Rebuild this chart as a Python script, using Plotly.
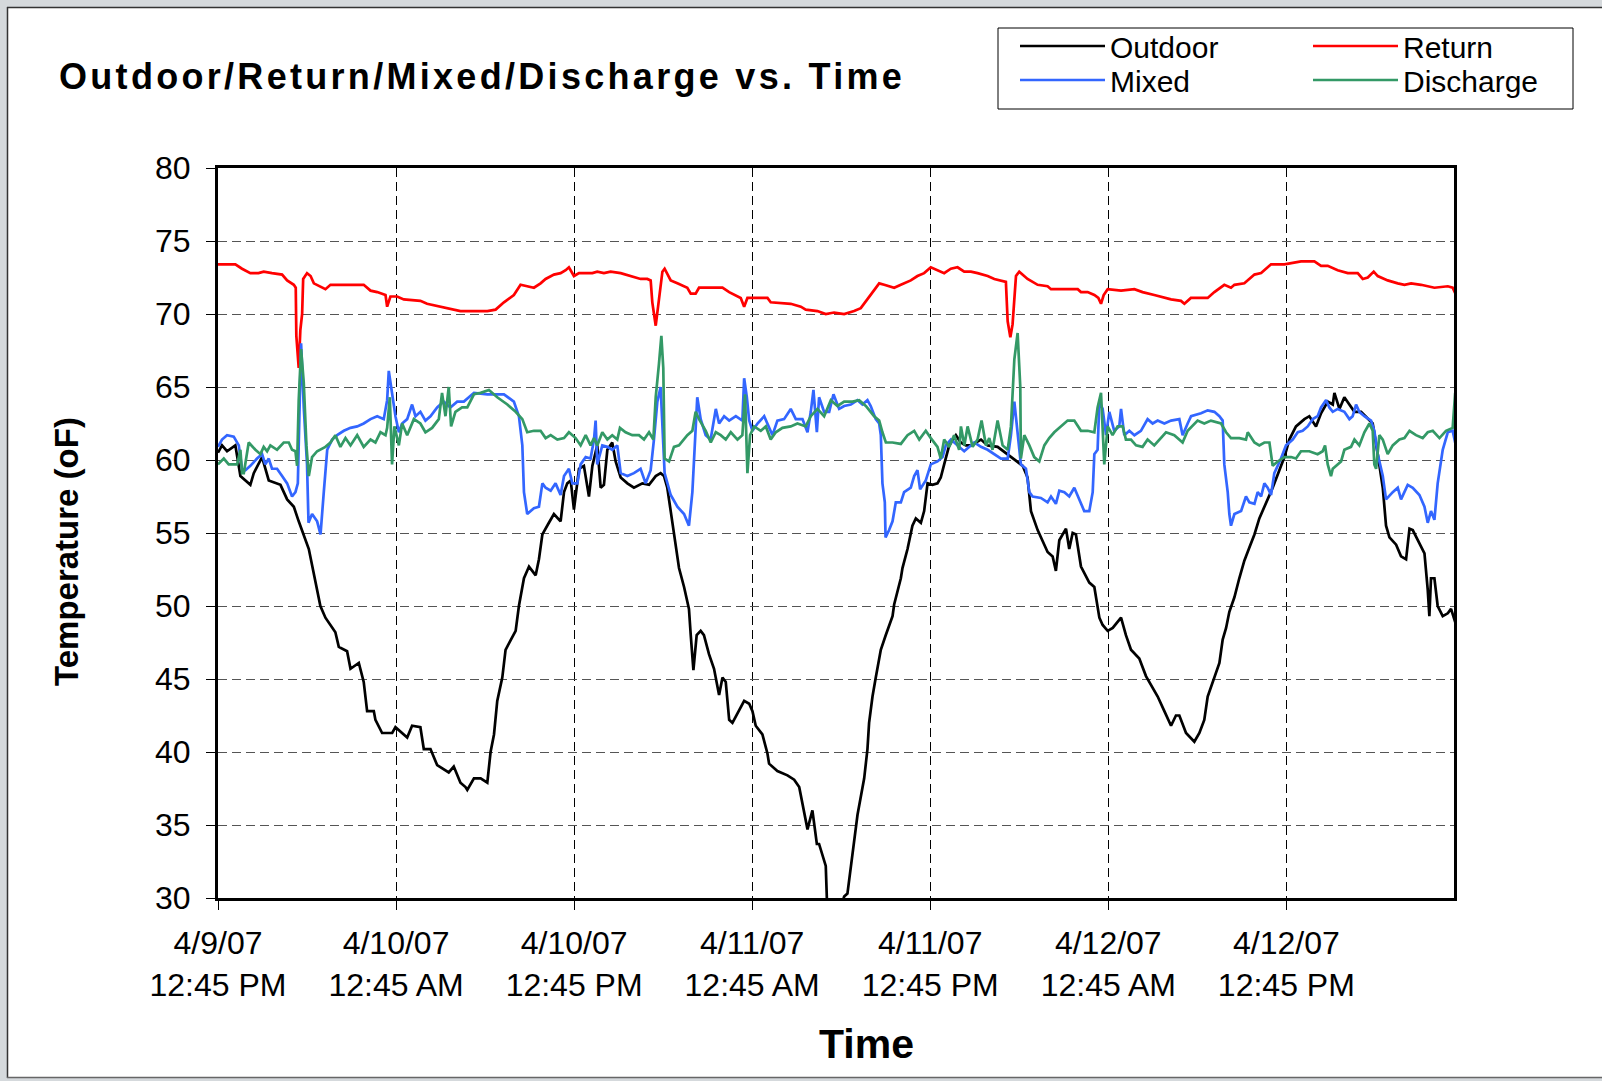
import numpy as np
import pandas as pd
import plotly.graph_objects as go

# ---------------- data (hours after 4/9/07 12:45 PM, temperature oF) ----------------
START = "2007-04-09 12:45"

outdoor_hours = [0.0, 0.27, 0.61, 1.17, 1.51, 2.18, 2.41, 2.97, 3.42, 4.21, 4.66, 5.11, 5.44, 6.12, 6.90, 7.24,
                 7.91, 8.14, 8.70, 8.93, 9.49, 9.82, 10.05, 10.50, 10.61, 11.06, 11.74, 11.96, 12.75, 13.08, 13.64,
                 13.87, 14.32, 14.77, 15.55, 15.89, 16.34, 16.68, 16.8, 17.25, 17.7, 18.15, 18.37, 18.6, 18.82,
                 19.16, 19.38, 19.83, 20.06, 20.28, 20.62, 20.96, 21.41, 21.63, 21.86, 22.3, 22.64, 23.09, 23.32,
                 23.54, 23.77, 23.99, 24.33, 24.66, 25.0, 25.23, 25.56, 25.79, 26.01, 26.24, 26.57, 26.8, 27.14,
                 27.59, 28.03, 28.6, 29.05, 29.5, 29.83, 30.06, 30.28, 30.51, 30.73, 31.07, 31.41, 31.74, 31.86,
                 32.04, 32.26, 32.53, 32.75, 33.09, 33.43, 33.55, 33.77, 34.0, 34.22, 34.45, 34.67, 35.46, 35.8,
                 36.02, 36.24, 36.69, 37.03, 37.14, 37.7, 38.38, 38.83, 39.17, 39.5, 39.73, 40.06, 40.36, 40.51,
                 40.74, 40.96, 41.1, 41.6, 42.05, 42.2, 42.42, 42.87, 43.1, 43.55, 43.77, 43.88, 44.11, 44.33,
                 44.67, 45.0, 45.46, 45.57, 46.02, 46.13, 46.47, 46.8, 47.03, 47.37, 47.59, 47.82, 48.15, 48.49,
                 48.71, 48.94, 49.28, 49.73, 50.06, 50.4, 50.74, 51.42, 51.87, 52.54, 53.44, 54.23, 54.56, 54.79,
                 55.24, 55.91, 56.25, 56.47, 56.7, 57.15, 57.37, 57.6, 57.82, 58.16, 58.72, 59.06, 59.4, 59.62,
                 59.96, 60.3, 60.86, 61.19, 61.53, 62.09, 62.54, 62.77, 63.33, 63.78, 64.23, 64.56, 64.79, 65.24,
                 65.8, 66.14, 66.47, 66.7, 67.15, 67.49, 67.71, 67.94, 68.16, 68.5, 68.83, 69.17, 69.51, 69.85,
                 70.18, 70.63, 71.08, 71.53, 71.87, 72.2, 72.65, 73.22, 73.55, 74.0, 74.34, 74.79, 75.13, 75.24,
                 75.58, 75.91, 76.25, 76.59, 77.04, 77.49, 77.82, 78.16, 78.5, 78.72, 78.95, 79.4, 79.73, 80.07,
                 80.3, 80.52, 80.86, 81.31, 81.53, 81.64, 81.75, 81.98, 82.2, 82.54, 82.88, 83.1, 83.44]
outdoor_temp = [60.5, 61.0, 60.6, 61.0, 58.9, 58.3, 59.1, 60.2, 58.6, 58.3, 57.3, 56.8, 55.8, 53.9, 50.0, 49.2,
                48.2, 47.2, 46.9, 45.7, 46.1, 44.8, 42.8, 42.8, 42.2, 41.3, 41.3, 41.7, 41.0, 41.8, 41.7,
                40.2, 40.2, 39.1, 38.6, 39.0, 37.9, 37.6, 37.4, 38.2, 38.2, 37.9, 40.0, 41.2, 43.5,
                45.1, 47.0, 47.9, 48.3, 50.0, 51.9, 52.7, 52.1, 53.2, 54.9, 55.7, 56.3, 55.8, 57.8,
                58.4, 58.6, 56.6, 59.4, 59.6, 57.5, 59.6, 61.0, 58.1, 58.3, 60.7, 61.2, 59.9, 58.8,
                58.4, 58.1, 58.4, 58.3, 58.9, 59.1, 58.9, 58.1, 56.5, 54.9, 52.6, 51.3, 49.8, 48.0,
                45.6, 48.0, 48.3, 48.0, 46.7, 45.7, 45.1, 43.9, 45.1, 44.8, 42.2, 42.0, 43.5, 43.3,
                42.8, 41.8, 41.2, 39.9, 39.2, 38.7, 38.4, 38.1, 37.6, 36.0, 34.7, 36.0, 33.7, 33.7,
                32.9, 32.2, 28.0, 27.5, 29.6, 30.1, 30.3, 33.7, 35.7, 38.2, 40.2, 42.0, 43.8, 45.1,
                47.0, 48.0, 49.3, 50.1, 51.9, 52.6, 53.9, 55.5, 56.0, 55.7, 56.5, 58.4, 58.3, 58.4,
                58.8, 59.7, 61.0, 61.7, 61.2, 61.0, 61.0, 61.4, 61.0, 60.9, 60.2, 59.6, 58.8, 56.5,
                55.2, 53.7, 53.4, 52.4, 54.5, 55.3, 53.9, 55.0, 54.9, 52.7, 51.6, 51.3, 49.2, 48.7,
                48.3, 48.5, 49.2, 48.0, 47.0, 46.4, 45.2, 44.8, 43.8, 42.8, 41.8, 42.5, 42.5, 41.3,
                40.7, 41.3, 42.2, 43.8, 45.1, 46.1, 47.7, 48.5, 49.6, 50.6, 51.9, 53.1, 54.0, 54.9,
                56.0, 57.0, 58.1, 59.3, 60.2, 61.4, 62.3, 62.8, 63.0, 62.3, 63.2, 64.0, 63.8, 64.6,
                63.5, 64.3, 63.8, 63.3, 63.3, 62.8, 62.5, 60.4, 58.1, 55.5, 54.7, 54.2, 53.4, 53.2,
                55.3, 55.2, 54.5, 53.6, 51.1, 49.3, 51.9, 51.9, 50.0, 49.3, 49.5, 49.8, 48.7]

return_hours = [0.0, 1.17, 1.62, 2.18, 2.73, 3.08, 3.64, 4.32, 4.66, 5.11, 5.24, 5.28, 5.44, 5.55, 5.67, 5.74,
                6.0, 6.24, 6.46, 6.91, 7.24, 7.58, 8.48, 9.82, 10.28, 10.73, 11.29, 11.4, 11.62, 12.07, 12.52,
                13.64, 14.09, 14.99, 15.66, 16.34, 17.25, 18.15, 18.71, 19.27, 19.94, 20.39, 20.84, 21.29, 21.74,
                22.08, 22.64, 23.09, 23.43, 23.65, 23.99, 24.33, 25.23, 25.56, 26.01, 26.46, 27.14, 27.81, 28.48,
                28.93, 29.16, 29.27, 29.5, 29.72, 29.95, 30.1, 30.51, 30.96, 31.63, 31.86, 32.19, 32.42, 33.43,
                34.0, 34.45, 35.23, 35.46, 35.68, 37.03, 37.25, 38.6, 39.28, 39.61, 40.4, 40.96, 41.52, 42.2,
                42.87, 43.32, 43.77, 44.22, 44.56, 44.9, 45.57, 46.02, 46.69, 47.14, 47.59, 48.04, 48.49, 48.94,
                49.39, 49.84, 50.29, 50.74, 51.19, 51.87, 52.32, 53.1, 53.22, 53.4, 53.55, 53.78, 54.0, 54.56,
                55.24, 55.91, 56.14, 57.94, 58.16, 58.61, 59.06, 59.33, 59.51, 59.69, 59.96, 60.86, 61.76, 62.31,
                63.1, 63.78, 64.23, 64.9, 65.13, 65.57, 66.7, 67.15, 67.82, 68.27, 68.5, 69.17, 69.85, 70.3,
                70.97, 71.87, 72.54, 72.99, 73.44, 73.89, 74.34, 74.79, 75.46, 76.14, 76.81, 77.15, 77.49, 77.89,
                78.16, 78.83, 79.51, 79.96, 80.41, 81.08, 81.98, 82.88, 83.21, 83.44]
return_temp = [73.4, 73.4, 73.1, 72.8, 72.8, 72.9, 72.8, 72.7, 72.3, 72.0, 71.8, 68.5, 66.3, 68.9, 70.0, 72.4,
               72.8, 72.6, 72.1, 71.9, 71.7, 72.0, 72.0, 72.0, 71.6, 71.5, 71.3, 70.5, 71.2, 71.2, 71.0,
               70.9, 70.7, 70.5, 70.3, 70.2, 70.2, 70.2, 70.3, 70.8, 71.3, 72.0, 71.9, 71.8, 72.1,
               72.4, 72.7, 72.8, 73.0, 73.2, 72.6, 72.8, 72.8, 72.9, 72.8, 72.9, 72.8, 72.6, 72.4,
               72.4, 72.3, 70.8, 69.2, 71.0, 72.9, 73.1, 72.3, 72.1, 71.8, 71.4, 71.4, 71.8, 71.8,
               71.8, 71.5, 71.1, 70.5, 71.1, 71.1, 70.8, 70.7, 70.5, 70.3, 70.2, 70.0, 70.1, 70.0,
               70.2, 70.4, 71.0, 71.6, 72.1, 72.0, 71.8, 72.0, 72.3, 72.6, 72.8, 73.2, 73.0, 72.8,
               73.1, 73.2, 72.9, 72.9, 72.8, 72.6, 72.4, 72.2, 69.5, 68.4, 69.3, 72.6, 72.9, 72.4,
               72.0, 71.9, 71.7, 71.7, 71.5, 71.5, 71.3, 71.1, 70.7, 71.3, 71.7, 71.6, 71.7, 71.5,
               71.3, 71.1, 71.0, 70.9, 70.7, 71.1, 71.1, 71.5, 72.0, 71.8, 72.0, 72.1, 72.7, 72.8,
               73.4, 73.4, 73.5, 73.6, 73.6, 73.6, 73.3, 73.3, 73.0, 72.8, 72.8, 72.4, 72.5, 72.9,
               72.6, 72.3, 72.1, 72.0, 72.1, 72.0, 71.8, 71.9, 71.8, 71.3]

mixed_hours = [0.0, 0.27, 0.61, 1.06, 1.4, 1.62, 1.85, 2.18, 2.63, 2.97, 3.19, 3.42, 3.64, 3.98, 4.32, 4.66,
               4.99, 5.22, 5.38, 5.51, 5.6, 5.78, 6.0, 6.1, 6.34, 6.68, 6.91, 7.13, 7.36, 7.69, 8.03, 8.48,
               8.93, 9.38, 9.82, 10.28, 10.73, 11.17, 11.4, 11.51, 11.74, 11.96, 12.19, 12.41, 12.75, 13.08,
               13.31, 13.64, 13.98, 14.32, 14.77, 15.21, 15.66, 16.12, 16.57, 17.25, 18.15, 19.27, 19.94, 20.28,
               20.51, 20.62, 20.84, 21.29, 21.63, 21.86, 22.08, 22.42, 22.75, 23.09, 23.32, 23.65, 23.88, 24.22,
               24.44, 24.78, 25.11, 25.34, 25.45, 25.56, 25.9, 26.24, 26.57, 26.91, 27.14, 27.59, 28.03, 28.48,
               28.82, 29.16, 29.38, 29.61, 29.83, 29.95, 30.1, 30.51, 30.96, 31.41, 31.74, 31.97, 32.19, 32.3,
               32.53, 32.87, 33.2, 33.55, 33.77, 34.11, 34.45, 34.9, 35.34, 35.46, 35.64, 35.8, 36.02, 36.36,
               36.81, 37.14, 37.37, 37.7, 38.15, 38.6, 38.94, 39.39, 39.73, 39.95, 40.13, 40.36, 40.51, 40.85,
               41.19, 41.48, 41.86, 42.2, 42.65, 43.1, 43.43, 43.77, 43.99, 44.33, 44.56, 44.67, 44.78, 44.94,
               44.99, 45.23, 45.46, 45.68, 46.02, 46.24, 46.69, 46.92, 47.14, 47.32, 47.7, 48.04, 48.49, 48.83,
               49.05, 49.39, 49.84, 50.29, 50.97, 51.42, 51.87, 52.32, 52.77, 53.22, 53.44, 53.67, 53.89, 54.11,
               54.45, 54.68, 54.9, 55.46, 55.91, 56.14, 56.47, 56.7, 57.04, 57.37, 57.71, 58.05, 58.38, 58.72,
               58.95, 59.06, 59.28, 59.4, 59.62, 59.85, 60.07, 60.4, 60.74, 60.86, 61.08, 61.42, 61.76, 62.2,
               62.65, 62.99, 63.33, 63.78, 64.23, 64.79, 65.01, 65.35, 65.58, 66.25, 66.7, 67.15, 67.49, 67.71,
               67.82, 68.05, 68.16, 68.27, 68.5, 68.95, 69.28, 69.51, 69.85, 70.07, 70.3, 70.52, 70.74, 70.97,
               71.19, 71.64, 71.98, 72.43, 72.77, 73.1, 73.44, 73.78, 74.11, 74.34, 74.68, 74.9, 75.13, 75.46,
               75.91, 76.25, 76.47, 76.7, 76.92, 77.26, 77.71, 77.93, 78.16, 78.5, 78.72, 79.17, 79.51, 79.73,
               80.18, 80.52, 80.97, 81.31, 81.53, 81.75, 81.98, 82.2, 82.54, 82.88, 83.21, 83.44]
mixed_temp = [60.9, 61.4, 61.7, 61.6, 61.0, 59.4, 59.3, 59.6, 60.1, 60.4, 59.7, 60.1, 59.4, 59.4, 58.9, 58.4,
              57.5, 57.8, 58.4, 64.3, 68.0, 63.6, 59.7, 55.7, 56.3, 55.8, 54.9, 57.8, 60.7, 61.4, 61.7, 62.0,
              62.2, 62.3, 62.5, 62.8, 63.0, 62.8, 64.1, 66.1, 64.5, 63.0, 61.9, 62.5, 62.8, 63.8,
              63.0, 63.3, 62.7, 63.0, 63.6, 64.0, 63.6, 64.0, 64.0, 64.6, 64.5, 64.5, 64.0, 63.0,
              61.0, 57.8, 56.3, 56.7, 56.8, 58.4, 58.1, 57.9, 58.4, 57.6, 58.9, 59.4, 58.4, 58.4,
              59.7, 60.2, 60.1, 61.4, 62.7, 59.7, 61.0, 60.9, 60.7, 61.0, 59.1, 58.9, 59.1, 59.4,
              58.4, 59.3, 61.4, 64.0, 65.0, 62.5, 59.1, 57.6, 56.8, 56.3, 55.5, 57.8, 62.3, 64.3,
              62.8, 61.7, 61.4, 63.5, 62.5, 63.0, 62.7, 63.0, 62.7, 65.6, 64.3, 62.7, 62.0, 62.5,
              63.0, 62.3, 61.7, 62.7, 62.8, 63.5, 62.8, 62.8, 61.9, 63.3, 64.8, 61.9, 64.3, 63.3,
              63.3, 64.5, 63.5, 63.7, 63.8, 64.1, 63.8, 64.1, 63.7, 62.8, 62.5, 61.7, 58.4, 57.1,
              54.7, 55.2, 55.8, 57.1, 57.1, 57.8, 58.1, 58.9, 59.3, 58.0, 58.6, 59.7, 59.9, 60.2,
              61.0, 61.4, 61.0, 60.6, 61.2, 60.9, 60.7, 60.4, 60.1, 60.1, 61.7, 64.0, 62.0, 59.7,
              59.4, 57.8, 57.5, 57.4, 57.1, 57.5, 57.0, 57.9, 57.8, 57.5, 58.1, 57.3, 56.5, 56.5,
              57.8, 60.4, 60.7, 64.0, 63.5, 61.7, 63.3, 62.0, 62.3, 63.5, 61.7, 62.0, 61.7, 62.0,
              62.8, 62.5, 62.7, 62.5, 62.7, 62.8, 61.7, 62.5, 63.0, 63.2, 63.4, 63.3, 63.0, 62.7,
              59.7, 57.8, 56.3, 55.5, 56.3, 56.5, 57.5, 57.1, 57.0, 57.8, 57.5, 58.4, 58.1, 57.6,
              59.1, 60.1, 61.0, 61.4, 61.9, 62.0, 62.3, 62.8, 63.0, 63.6, 64.1, 63.6, 63.3, 63.5,
              63.3, 62.8, 63.0, 63.8, 63.3, 63.0, 62.7, 62.0, 60.4, 58.9, 57.3, 57.8, 58.1, 57.3,
              58.3, 58.1, 57.6, 56.8, 55.7, 56.5, 55.9, 58.4, 60.7, 61.9, 62.0, 60.9]

discharge_hours = [0.0, 0.39, 0.72, 1.29, 1.51, 1.62, 1.74, 2.07, 2.52, 2.86, 3.08, 3.31, 3.53, 3.98, 4.43, 4.77,
                   4.99, 5.22, 5.33, 5.44, 5.6, 5.78, 5.96, 6.12, 6.34, 6.68, 7.24, 7.58, 7.91, 8.25, 8.59, 8.93,
                   9.38, 9.82, 10.28, 10.61, 10.95, 11.29, 11.4, 11.58, 11.73, 11.89, 12.19, 12.41, 12.75, 13.2,
                   13.64, 13.98, 14.43, 14.88, 15.1, 15.33, 15.55, 15.71, 16.0, 16.45, 16.8, 17.25, 17.7, 18.26,
                   18.82, 19.5, 20.06, 20.51, 20.84, 21.29, 21.74, 22.08, 22.42, 22.87, 23.32, 23.65, 24.1, 24.44,
                   24.78, 25.11, 25.34, 25.56, 25.9, 26.24, 26.57, 26.91, 27.09, 27.47, 27.92, 28.37, 28.71, 29.05,
                   29.34, 29.5, 29.72, 29.88, 30.01, 30.1, 30.4, 30.73, 31.07, 31.63, 31.97, 32.19, 32.42, 32.87,
                   33.21, 33.55, 33.88, 34.22, 34.56, 35.01, 35.34, 35.52, 35.68, 35.86, 36.13, 36.58, 36.92, 37.25,
                   37.59, 38.04, 38.6, 39.05, 39.61, 39.95, 40.4, 40.85, 41.3, 41.75, 42.2, 42.76, 43.21, 43.66,
                   44.22, 44.56, 44.78, 45.01, 45.46, 46.02, 46.47, 46.92, 47.26, 47.7, 48.04, 48.49, 48.71, 48.94,
                   49.28, 49.61, 49.95, 50.07, 50.3, 50.52, 50.86, 51.19, 51.46, 51.76, 51.98, 52.2, 52.54, 52.88,
                   53.22, 53.44, 53.67, 53.89, 54.07, 54.11, 54.34, 54.68, 55.01, 55.35, 55.69, 56.02, 56.36, 56.81,
                   57.26, 57.71, 58.16, 58.61, 59.06, 59.28, 59.51, 59.73, 59.96, 60.29, 60.63, 60.97, 61.19, 61.53,
                   61.87, 62.31, 62.65, 63.1, 63.44, 63.89, 64.45, 65.01, 65.35, 66.02, 66.47, 66.92, 67.6, 67.94,
                   68.27, 68.83, 69.28, 69.4, 69.85, 70.18, 70.52, 70.86, 71.08, 71.42, 71.87, 72.32, 72.65, 72.99,
                   73.55, 74.11, 74.45, 74.61, 74.79, 75.01, 75.13, 75.69, 75.91, 76.36, 76.59, 76.92, 77.26, 77.6,
                   77.82, 77.93, 78.05, 78.27, 78.5, 78.83, 79.17, 79.62, 79.96, 80.3, 80.74, 81.19, 81.53, 81.87,
                   82.32, 82.76, 83.21, 83.38]
discharge_temp = [59.7, 60.1, 59.7, 59.7, 60.7, 59.1, 59.1, 61.2, 60.7, 60.4, 60.9, 60.6, 61.0, 60.7, 61.2, 61.2,
                  60.7, 60.6, 59.6, 64.1, 67.6, 65.3, 61.0, 58.9, 60.2, 60.6, 60.9, 61.2, 61.7, 60.9, 61.5, 61.0,
                  61.7, 60.9, 61.4, 61.2, 61.9, 61.7, 62.2, 64.3, 59.7, 62.3, 61.0, 62.5, 61.7, 62.8,
                  62.5, 61.9, 62.2, 62.8, 64.6, 63.0, 65.0, 62.3, 63.3, 63.6, 63.6, 64.5, 64.6, 64.8,
                  64.3, 63.8, 63.3, 62.8, 61.9, 62.0, 62.0, 61.5, 61.7, 61.4, 61.5, 61.9, 61.5, 61.0,
                  61.7, 61.0, 61.5, 61.0, 61.9, 61.4, 61.7, 61.4, 62.2, 61.9, 61.7, 61.7, 61.4, 61.9,
                  61.4, 64.3, 66.6, 68.5, 66.3, 60.1, 59.9, 60.9, 61.0, 61.7, 62.0, 63.3, 62.8, 62.0,
                  61.2, 61.9, 61.7, 61.4, 61.9, 61.4, 61.7, 64.5, 59.1, 61.7, 62.3, 62.0, 62.3, 61.4,
                  61.9, 62.2, 62.3, 62.5, 62.3, 63.0, 63.5, 63.0, 64.1, 63.7, 64.0, 64.0, 64.1, 63.7,
                  63.0, 62.7, 61.9, 61.2, 61.2, 61.1, 61.7, 62.0, 61.4, 62.0, 61.5, 60.9, 60.1, 61.4,
                  60.9, 61.7, 60.7, 62.3, 61.0, 62.3, 60.9, 61.4, 62.7, 61.0, 61.5, 60.7, 62.7, 61.0,
                  60.7, 62.3, 66.9, 68.7, 65.0, 60.1, 61.7, 61.0, 60.2, 59.9, 61.0, 61.5, 61.9, 62.3,
                  62.7, 62.7, 62.0, 62.0, 61.9, 63.6, 64.6, 59.7, 62.3, 61.7, 62.3, 62.3, 61.4, 61.4,
                  61.0, 60.9, 61.4, 61.0, 61.4, 61.9, 61.7, 61.2, 62.0, 62.7, 62.5, 62.7, 62.5, 61.9,
                  61.5, 61.5, 61.4, 61.9, 61.2, 61.0, 61.2, 61.2, 59.6, 59.9, 60.2, 60.2, 60.1, 60.6,
                  60.6, 60.4, 60.6, 61.0, 59.7, 58.9, 59.4, 59.9, 60.7, 60.9, 61.4, 61.0, 61.9, 62.5,
                  62.0, 59.7, 59.4, 61.7, 61.4, 60.4, 61.0, 61.4, 61.5, 62.0, 61.7, 61.5, 61.9, 62.0,
                  61.5, 62.0, 62.2, 64.6]

tick_hours = [0, 12, 24, 36, 48, 60, 72]
tick_labels = ["4/9/07<br>12:45 PM", "4/10/07<br>12:45 AM", "4/10/07<br>12:45 PM", "4/11/07<br>12:45 AM",
               "4/11/07<br>12:45 PM", "4/12/07<br>12:45 AM", "4/12/07<br>12:45 PM"]
x_end_hours = 83.3
y_ticks = [30, 35, 40, 45, 50, 55, 60, 65, 70, 75, 80]

series_names = ["Outdoor", "Return", "Mixed", "Discharge"]
series_colors = ["#000000", "#FF0000", "#3366FF", "#339966"]

# ---------------- helpers ----------------
t0 = pd.Timestamp(START)


def to_time(hours):
    return t0 + pd.to_timedelta(np.asarray(hours, dtype=float), unit="h")


W, H = 1602, 1081
PL, PR, PT, PB = 218, 1454, 168, 898  # plot area in pixels


def px(x):
    return (x - PL) / (PR - PL)


def py(y):
    return (PB - y) / (PB - PT)


FONT = "Liberation Sans, Arial, Helvetica, sans-serif"

fig = go.Figure()
data = [(outdoor_hours, outdoor_temp), (return_hours, return_temp),
        (mixed_hours, mixed_temp), (discharge_hours, discharge_temp)]
# one legend per entry so the 2x2 Excel-style legend grid can be placed exactly
legend_ids = ["legend", "legend2", "legend3", "legend4"]
legend_pos = [(1015, 46), (1308, 46), (1015, 80), (1308, 80)]  # (left px, row centre px)
for (hrs, temps), name, color, lg in zip(data, series_names, series_colors, legend_ids):
    fig.add_trace(go.Scatter(x=to_time(hrs), y=temps, mode="lines", name=name,
                             line=dict(color=color, width=2.7), legend=lg))

legend_layout = {}
for lg, (lx, ly) in zip(legend_ids, legend_pos):
    legend_layout[lg] = dict(xref="container", yref="container", x=lx / W, xanchor="left",
                             y=1 - ly / H, yanchor="middle", font=dict(family=FONT, size=30),
                             itemwidth=85, bgcolor="rgba(0,0,0,0)", borderwidth=0)

fig.update_layout(
    width=W, height=H,
    margin=dict(l=PL, r=W - PR, t=PT, b=H - PB, autoexpand=False),
    paper_bgcolor="white", plot_bgcolor="white",
    font=dict(family=FONT, color="black"),
    title=dict(text="<b>Outdoor/Return/Mixed/Discharge vs. Time</b>",
               font=dict(family=FONT, size=36, color="black"),
               xref="container", yref="container", x=59 / W, xanchor="left",
               y=1 - 76 / H, yanchor="middle"),
    showlegend=True,
    **legend_layout,
)

fig.update_xaxes(
    type="date", range=[to_time([0])[0], to_time([x_end_hours])[0]],
    tickmode="array", tickvals=to_time(tick_hours), ticktext=tick_labels, tickangle=0,
    tickfont=dict(family=FONT, size=32), ticks="outside", ticklen=9, tickwidth=1, tickcolor="black",
    ticklabelstandoff=6,
    showline=True, linewidth=3, linecolor="black", mirror=True,
    showgrid=True, gridcolor="black", gridwidth=1, griddash="9px,5px", zeroline=False,
)
fig.update_yaxes(
    range=[30, 80], tickmode="array", tickvals=y_ticks,
    tickfont=dict(family=FONT, size=32), ticks="outside", ticklen=9, tickwidth=1, tickcolor="black",
    ticklabelstandoff=9,
    showline=True, linewidth=3, linecolor="black", mirror=True,
    showgrid=True, gridcolor="#555555", gridwidth=1, griddash="9px,5px", zeroline=False,
)

# axis titles
fig.add_annotation(text="<b>Time</b>", xref="paper", yref="paper", x=px(866), y=py(1044),
                   xanchor="center", yanchor="middle", showarrow=False,
                   font=dict(family=FONT, size=41, color="black"))
fig.add_annotation(text="<b>Temperature (oF)</b>", xref="paper", yref="paper", x=px(66), y=py(552),
                   xanchor="center", yanchor="middle", showarrow=False, textangle=-90,
                   font=dict(family=FONT, size=33, color="black"))

# legend box
fig.add_shape(type="rect", xref="paper", yref="paper", x0=px(998), x1=px(1573), y0=py(109), y1=py(28),
              line=dict(color="black", width=1), fillcolor="rgba(0,0,0,0)", layer="below")

# outer window frame (grey bands)
frame = "#d5d9dc"
fig.add_shape(type="rect", xref="paper", yref="paper", x0=px(0), x1=px(7), y0=py(H), y1=py(0),
              line=dict(width=0), fillcolor=frame, layer="below")
fig.add_shape(type="rect", xref="paper", yref="paper", x0=px(0), x1=px(W), y0=py(7), y1=py(0),
              line=dict(width=0), fillcolor=frame, layer="below")
fig.add_shape(type="rect", xref="paper", yref="paper", x0=px(0), x1=px(W), y0=py(H), y1=py(1078),
              line=dict(width=0), fillcolor=frame, layer="below")
fig.add_shape(type="line", xref="paper", yref="paper", x0=px(7.5), x1=px(7.5), y0=py(1078), y1=py(7),
              line=dict(color="#333333", width=1.5), layer="below")
fig.add_shape(type="line", xref="paper", yref="paper", x0=px(7), x1=px(W), y0=py(7.5), y1=py(7.5),
              line=dict(color="#333333", width=1.5), layer="below")
fig.add_shape(type="line", xref="paper", yref="paper", x0=px(7), x1=px(W), y0=py(1077.5), y1=py(1077.5),
              line=dict(color="#666666", width=1.5), layer="below")

# page tweaks: no default body margin; Excel-style letter spacing on the title
post = ("document.body.style.margin='0';"
        "var t=document.querySelector('.gtitle'); if(t){t.style.letterSpacing='3.3px';}")
fig.write_html("out.html", post_script=post, config={"displayModeBar": False})
